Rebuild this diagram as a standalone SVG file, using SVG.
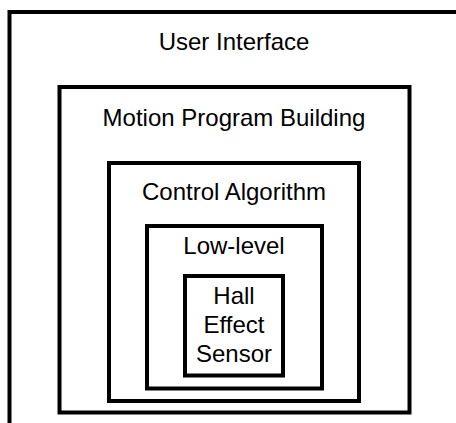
<svg xmlns="http://www.w3.org/2000/svg" width="456" height="423" viewBox="0 0 456 423">
  <style>
    .box { fill: none; stroke: #000; stroke-width: 4; stroke-linejoin: miter; }
    .label { font-family: "Liberation Sans", Arial, sans-serif; font-size: 24px; fill: #000; text-anchor: middle; }
  </style>
  <rect x="0" y="0" width="456" height="423" fill="#fff"/>
  <!-- nested layers, outermost first -->
  <g id="user-interface">
    <rect class="box" x="9.5" y="12" width="460" height="430"/>
    <text class="label" x="234" y="50">User Interface</text>
  </g>
  <g id="motion-program-building">
    <rect class="box" x="59.5" y="87" width="350" height="325.5"/>
    <text class="label" x="234" y="126">Motion Program Building</text>
  </g>
  <g id="control-algorithm">
    <rect class="box" x="109" y="163" width="250" height="238"/>
    <text class="label" x="234" y="200">Control Algorithm</text>
  </g>
  <g id="low-level">
    <rect class="box" x="147" y="226" width="175" height="162.5"/>
    <text class="label" x="234" y="254">Low-level</text>
  </g>
  <g id="hall-effect-sensor">
    <rect class="box" x="185" y="276" width="98" height="99.5"/>
    <text class="label" x="234" y="304">Hall</text>
    <text class="label" x="234" y="333">Effect</text>
    <text class="label" x="234" y="362">Sensor</text>
  </g>
  <g id="connectors"/>
</svg>
